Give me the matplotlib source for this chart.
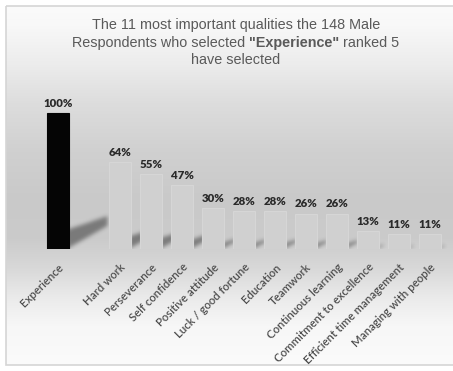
import numpy as np
import matplotlib
matplotlib.use('Agg')
import matplotlib.pyplot as plt
from matplotlib.patches import Rectangle
from matplotlib.path import Path

# qualities and share of respondents (%)
qualities = ['Experience', 'Hard work', 'Perseverance', 'Self confidence',
             'Positive attitude', 'Luck / good fortune', 'Education', 'Teamwork',
             'Continuous learning', 'Commitment to excellence',
             'Efficient time management', 'Managing with people']
shares = [100, 64, 55, 47, 30, 28, 28, 26, 26, 13, 11, 11]
# one empty slot between the selected quality and the rest
slots = [0, 2, 3, 4, 5, 6, 7, 8, 9, 10, 11, 12]

W, H = 453, 371
fig = plt.figure(figsize=(W / 100, H / 100), dpi=100)

# background panel with a vertical grey fade
bg = fig.add_axes([0, 0, 1, 1], zorder=-2)
bg.set_xlim(0, W)
bg.set_ylim(H, 0)
bg.axis('off')
stops_y = [0, 20, 60, 100, 150, 200, 240, 270, 300, 330, 371]
stops_v = [251, 248, 236, 221, 208, 201, 203, 216, 234, 247, 251]
grad = np.interp(np.arange(H), stops_y, stops_v) / 255.0
img = np.repeat(grad[:, None], 2, axis=1)
bg.imshow(np.dstack([img, img, img]), extent=(6, W, 365, 6), aspect='auto')
bg.add_patch(Rectangle((5.5, 5.5), W, 359.5, fill=False, ec='#d5d5d5', lw=1.2))

# main chart: baseline at y=249px, 100% at 113px, slot pitch 31px
ax = fig.add_axes([0, 1 - 249 / H, 1, (249 - 85.8) / H])
ax.patch.set_alpha(0)
xlo, xhi = -58 / 31, (W - 58) / 31
for s in ax.spines.values():
    s.set_visible(False)
ax.set_yticks([])

hw = 0.34

# soft cast shadows: rasterise each slanted band, then blur it
nx, ny, ytop = 906, 110, 40
gx, gy = np.meshgrid(np.linspace(xlo, xhi, nx), np.linspace(0, ytop, ny))
grid = np.column_stack([gx.ravel(), gy.ravel()])
mask = np.zeros(gx.size)
for c, h in zip(slots, shares):
    xr = c + hw
    L = 1.26 * h / 100
    rise = 17 * h / 100
    t0, t1 = 14 * h / 100, 7 * h / 100
    pts = [(xr - 0.05, 0), (xr + L, rise), (xr + L, rise + t1), (xr - 0.05, t0)]
    mask = np.maximum(mask, Path(pts).contains_points(grid))
mask = mask.reshape(gx.shape)
k = np.arange(-12, 13)
kern = np.exp(-k ** 2 / (2 * 4.0 ** 2))
kern /= kern.sum()
mask = np.apply_along_axis(lambda r: np.convolve(r, kern, mode='same'), 1, mask)
mask = np.apply_along_axis(lambda r: np.convolve(r, kern, mode='same'), 0, mask)
shadow = np.zeros(gx.shape + (4,))
shadow[..., 3] = 0.4 * mask
ax.imshow(shadow, extent=(xlo, xhi, 0, ytop), origin='lower', aspect='auto',
          zorder=1, interpolation='bilinear')
ax.set_xlim(xlo, xhi)
ax.set_ylim(0, 120)

colors = ['#050505'] + ['#d0d0d0'] * (len(shares) - 1)
edges = ['#050505'] + ['#d6d6d6'] * (len(shares) - 1)
bars = ax.bar(slots, shares, width=2 * hw, color=colors, edgecolor=edges,
              linewidth=0.8, zorder=2)

for b, v in zip(bars, shares):
    ax.annotate(f'{v}%', (b.get_x() + b.get_width() / 2, v), xytext=(0, 3),
                textcoords='offset points', ha='center', va='bottom',
                fontsize=8.2, fontweight='heavy', color='#2a2a2a',
                family='Lato', zorder=3)

ax.set_xticks(slots, qualities, rotation=45, ha='right',
              rotation_mode='anchor', fontsize=8.2, color='#4e4e4e',
              family='Lato', fontweight='semibold')
ax.tick_params(axis='x', length=0, pad=9)

# title, middle line has a bold piece
tfont = dict(family='Liberation Sans', fontsize=10.4, color='#5a5a5a')
cx = 236 / W
fig.text(cx, 1 - 25 / H, 'The 11 most important qualities the 148 Male',
         ha='center', va='center', **tfont)
fig.text(cx, 1 - 60 / H, 'have selected', ha='center', va='center', **tfont)

pieces = [('Respondents who selected', 'normal'), ('"Experience"', 'bold'),
          ('ranked 5', 'normal')]
texts = [fig.text(0, 1 - 43 / H, p, ha='left', va='center', fontweight=w,
                  **tfont) for p, w in pieces]
fig.canvas.draw()
r = fig.canvas.get_renderer()
widths = [t.get_window_extent(r).width for t in texts]
gap = 3.9
total = sum(widths) + gap * (len(widths) - 1)
x = cx * W - total / 2
for t, w in zip(texts, widths):
    t.set_x(x / W)
    x += w + gap

fig.savefig('out.png', dpi=100)
